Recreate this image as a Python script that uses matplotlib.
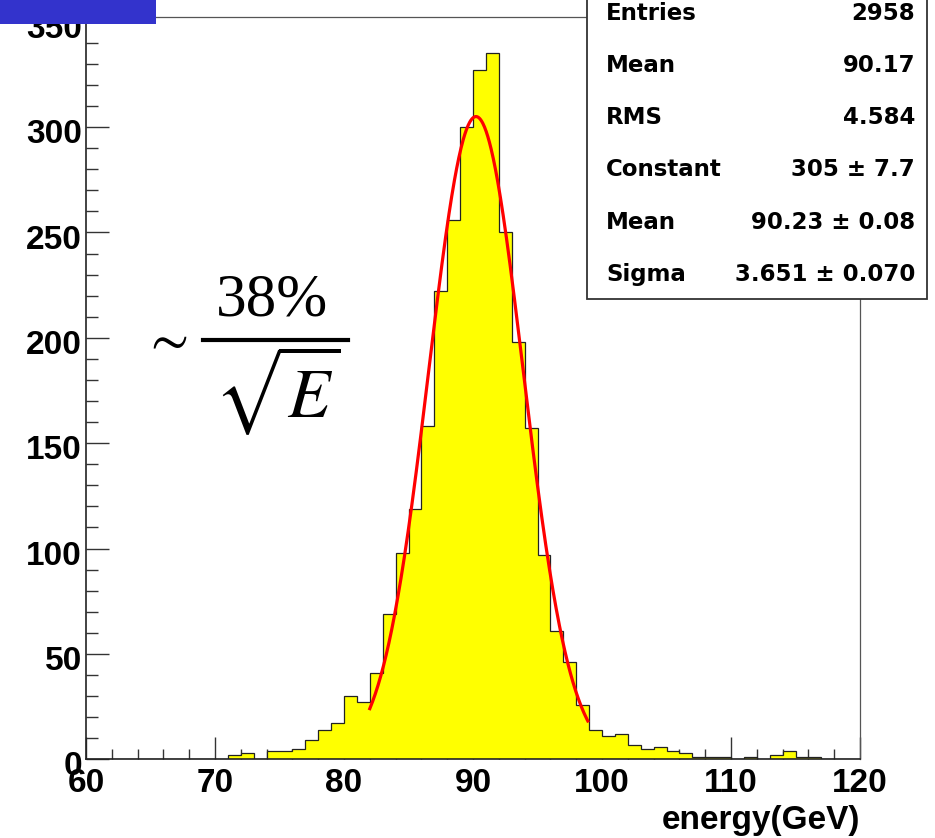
import matplotlib
matplotlib.use("Agg")
import matplotlib.pyplot as plt
import matplotlib.transforms as mtransforms
from matplotlib.patches import Rectangle
from matplotlib.lines import Line2D
from matplotlib.ticker import MultipleLocator
import numpy as np

# histogram: 1 GeV bins from 60 to 120
bin_edges = np.arange(60, 121, 1)
counts = [0, 0, 0, 0, 0, 0, 0, 0, 0, 0,          # 60-69
          0, 2, 3, 0, 4, 4, 5, 9, 14, 17,        # 70-79
          30, 27, 41, 69, 98, 119, 158, 222, 256, 300,  # 80-89
          327, 335, 250, 198, 157, 97, 61, 46, 26, 14,  # 90-99
          11, 12, 7, 5, 6, 4, 3, 1, 1, 1,        # 100-109
          0, 1, 0, 2, 4, 1, 1, 0, 0, 0]          # 110-119

# gaussian fit parameters (from the stats box)
fit_const = 305.0
fit_mean = 90.23
fit_sigma = 3.651
fit_range = (82.0, 98.9)

stat_names = ["Entries", "Mean", "RMS", "Constant", "Mean", "Sigma"]
stat_values = ["2958", "90.17", "4.584", "305 \u00b1 7.7", "90.23 \u00b1 0.08", "3.651 \u00b1 0.070"]

W, H = 935, 838
fig = plt.figure(figsize=(W / 100, H / 100), dpi=100)

def fx(x):
    return x / W

def fy(y):
    return 1 - y / H

# axes frame in pixels: left 86, right 860, top 17.5, bottom 759.3
ax = fig.add_axes([fx(86), fy(759.3), fx(860) - fx(86), fy(17.5) - fy(759.3)])
ax.set_xlim(60, 120)
ax.set_ylim(0, 352)

ax.stairs(counts, bin_edges, fill=True, color="#ffff00", zorder=2)
ax.stairs(counts, bin_edges, fill=False, color="#222222", lw=0.9, baseline=0, zorder=3)

xf = np.linspace(fit_range[0], fit_range[1], 400)
yf = fit_const * np.exp(-0.5 * ((xf - fit_mean) / fit_sigma) ** 2)
ax.plot(xf, yf, color="#ff0000", lw=2.3, zorder=4)

# root style axes
ax.xaxis.set_major_locator(MultipleLocator(10))
ax.xaxis.set_minor_locator(MultipleLocator(2))
ax.yaxis.set_major_locator(MultipleLocator(50))
ax.yaxis.set_minor_locator(MultipleLocator(10))
ax.tick_params(axis="x", which="major", direction="in", length=16, width=1.0,
               color="#333333", pad=6)
ax.tick_params(axis="x", which="minor", direction="in", length=7.5, width=1.0,
               color="#333333")
ax.tick_params(axis="y", which="major", direction="in", length=16.5, width=1.0,
               color="#333333", pad=3)
ax.tick_params(axis="y", which="minor", direction="in", length=8.5, width=1.0,
               color="#333333")
for lab in ax.get_xticklabels() + ax.get_yticklabels():
    lab.set_fontfamily("Liberation Sans")
    lab.set_fontweight("bold")
    lab.set_fontsize(24)

# y labels sit a little below their ticks in the original
shift = mtransforms.ScaledTranslation(0, -3 / 72, fig.dpi_scale_trans)
for lab in ax.get_yticklabels():
    lab.set_transform(lab.get_transform() + shift)

for side in ["left", "bottom"]:
    ax.spines[side].set_color("#222222")
    ax.spines[side].set_linewidth(1.2)
for side in ["top", "right"]:
    ax.spines[side].set_color("#555555")
    ax.spines[side].set_linewidth(0.9)

ax.text(1.0, -0.082, "energy(GeV)", transform=ax.transAxes, ha="right", va="center",
        fontsize=24, fontweight="bold", family="Liberation Sans")

# blue block top left
fig.patches.append(Rectangle((0, fy(24)), fx(156), 1 - fy(24), transform=fig.transFigure,
                             facecolor="#3333cc", edgecolor="none", zorder=5))

# stats box
fig.patches.append(Rectangle((fx(587), fy(299)), fx(927) - fx(587), fy(-10) - fy(299),
                             transform=fig.transFigure, facecolor="white",
                             edgecolor="#333333", lw=1.3, zorder=5))
row_y = 13
for name, val in zip(stat_names, stat_values):
    fig.text(fx(606), fy(row_y), name, ha="left", va="center", fontsize=16.5,
             fontweight="bold", family="DejaVu Sans", zorder=6)
    fig.text(fx(915), fy(row_y), val, ha="right", va="center", fontsize=16.5,
             fontweight="bold", family="DejaVu Sans", zorder=6)
    row_y += 52.3

# resolution formula
plt.rcParams["mathtext.fontset"] = "stix"
fig.text(fx(165), fy(340), r"$\sim$", ha="center", va="center", fontsize=40, zorder=6)
fig.text(fx(272), fy(315), "38%", ha="center", va="baseline", fontsize=44,
         family="Liberation Serif", zorder=6)
fig.lines.append(Line2D([fx(203), fx(348)], [fy(340), fy(340)], transform=fig.transFigure,
                        color="black", lw=3.0, zorder=6))
fig.text(fx(277), fy(390), r"$\sqrt{E}$", ha="center", va="center", fontsize=50, zorder=6)

fig.savefig("out.png", dpi=100)
